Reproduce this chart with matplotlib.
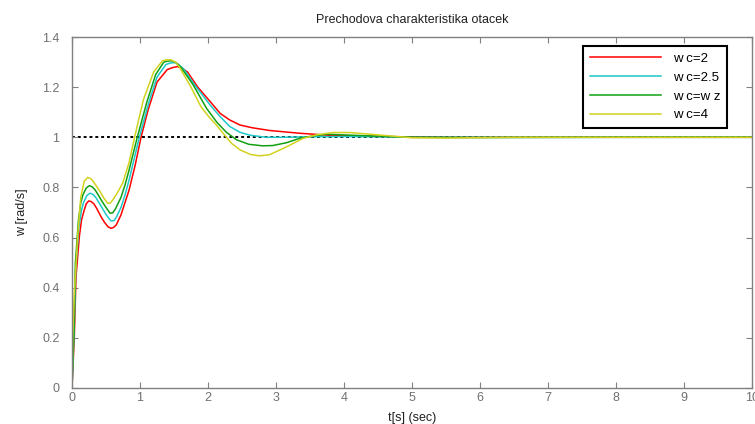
import numpy as np
import matplotlib
matplotlib.use("Agg")
import matplotlib.pyplot as plt

plt.rcParams['font.family'] = ['Liberation Sans', 'DejaVu Sans']

# step responses (t in s, w in rad/s)
t_wc2 = [0, 0.034, 0.059, 0.108, 0.14, 0.18, 0.21, 0.245, 0.28, 0.32, 0.36, 0.40,
         0.44, 0.48, 0.53, 0.574, 0.61, 0.65, 0.72, 0.78, 0.84, 0.93, 1.015, 1.12,
         1.25, 1.40, 1.48, 1.55, 1.62, 1.70, 1.85, 2.03, 2.18, 2.32, 2.47, 2.65,
         2.91, 3.35, 3.84, 4.58, 5.5, 7.0, 8.5, 10]
w_wc2 = [0, 0.205, 0.444, 0.604, 0.67, 0.71, 0.735, 0.746, 0.744, 0.735, 0.718, 0.697,
         0.677, 0.66, 0.643, 0.637, 0.64, 0.65, 0.69, 0.74, 0.79, 0.89, 1.0, 1.11,
         1.22, 1.27, 1.278, 1.282, 1.276, 1.26, 1.20, 1.143, 1.095, 1.069, 1.049, 1.038,
         1.027, 1.016, 1.007, 1.003, 1.0, 1.0, 1.0, 1.0]

t_wc25 = [0, 0.03, 0.055, 0.10, 0.14, 0.17, 0.22, 0.265, 0.31, 0.35, 0.40, 0.45,
          0.51, 0.574, 0.62, 0.65, 0.72, 0.78, 0.84, 0.99, 1.12, 1.25, 1.38, 1.44,
          1.505, 1.57, 1.65, 1.80, 2.03, 2.17, 2.32, 2.47, 2.62, 2.86, 3.1, 3.5, 4.0,
          4.5, 5, 6, 8, 10]
w_wc25 = [0, 0.22, 0.47, 0.64, 0.71, 0.74, 0.768, 0.777, 0.772, 0.76, 0.738, 0.715,
          0.688, 0.666, 0.668, 0.68, 0.72, 0.77, 0.83, 1.0, 1.13, 1.24, 1.29, 1.296,
          1.298, 1.29, 1.27, 1.21, 1.129, 1.085, 1.043, 1.02, 1.008, 1.0, 1.0, 1.002,
          1.003, 1.002, 1.0, 1.0, 1.0, 1.0]

t_wcwz = [0, 0.03, 0.05, 0.095, 0.13, 0.16, 0.21, 0.255, 0.30, 0.34, 0.39, 0.44,
          0.50, 0.56, 0.60, 0.64, 0.72, 0.78, 0.84, 0.96, 1.1, 1.23, 1.35, 1.41,
          1.47, 1.53, 1.6, 1.78, 1.98, 2.13, 2.27, 2.42, 2.6, 2.8, 2.95, 3.15, 3.35,
          3.55, 3.75, 4.33, 5, 6, 8, 10]
w_wcwz = [0, 0.24, 0.50, 0.67, 0.74, 0.77, 0.798, 0.807, 0.802, 0.79, 0.768, 0.745,
          0.72, 0.697, 0.699, 0.715, 0.76, 0.81, 0.87, 1.0, 1.14, 1.25, 1.30, 1.304,
          1.305, 1.298, 1.28, 1.21, 1.115, 1.06, 1.02, 0.99, 0.972, 0.966, 0.967,
          0.978, 0.996, 1.006, 1.012, 1.006, 1.0, 0.999, 1.0, 1.0]

t_wc4 = [0, 0.01, 0.034, 0.083, 0.13, 0.18, 0.23, 0.27, 0.31, 0.36, 0.42, 0.47,
         0.525, 0.56, 0.60, 0.67, 0.745, 0.84, 0.92, 1.05, 1.2, 1.33, 1.39, 1.455,
         1.52, 1.58, 1.75, 1.9, 2.03, 2.12, 2.27, 2.35, 2.47, 2.62, 2.75, 2.9, 3.11,
         3.25, 3.40, 3.6, 3.84, 4.09, 4.48, 5.0, 5.5, 6.5, 8, 10]
w_wc4 = [0, 0.2, 0.378, 0.604, 0.763, 0.825, 0.84, 0.836, 0.825, 0.805, 0.78, 0.757,
         0.737, 0.737, 0.75, 0.78, 0.817, 0.90, 1.0, 1.15, 1.26, 1.305, 1.309, 1.309,
         1.30, 1.28, 1.20, 1.12, 1.076, 1.05, 1.0, 0.975, 0.95, 0.932, 0.926, 0.93,
         0.956, 0.975, 0.996, 1.01, 1.019, 1.019, 1.01, 0.998, 0.997, 1.0, 1.0, 1.0]

labels = ['w c=2', 'w c=2.5', 'w c=w z', 'w c=4']
colors = ['#ff0000', '#1ec8c8', '#12a012', '#d2d21e']

fig = plt.figure(figsize=(7.55, 4.24), dpi=100)
ax = fig.add_axes([72/755, 36/424, 680/755, 351/424])

series = [(t_wc2, w_wc2), (t_wc25, w_wc25), (t_wcwz, w_wcwz), (t_wc4, w_wc4)]
for (t, w), lab, col in zip(series, labels, colors):
    ax.plot(t, w, color=col, lw=1.1, label=lab)

# reference value
ax.axhline(1.0, color='black', ls=(0, (1.5, 1.5)), lw=1.4, zorder=1)

ax.set_xlim(0, 10)
ax.set_ylim(0, 1.4)
ax.set_xticks(np.arange(0, 11, 1))
ax.set_yticks(np.arange(0, 1.41, 0.2))
ax.set_yticklabels(['0', '0.2', '0.4', '0.6', '0.8', '1', '1.2', '1.4'])

ax.tick_params(direction='in', length=4, width=0.8, colors='#808080',
               labelcolor='#707070', labelsize=9, top=True, right=True)
ax.tick_params(axis='y', pad=9)
ax.tick_params(axis='x', pad=3)
for sp in ax.spines.values():
    sp.set_color('#808080')
    sp.set_linewidth(1.0)

ax.set_title('Prechodova charakteristika otacek', fontsize=9, color='#202020', pad=10)
ax.set_xlabel('t[s] (sec)', fontsize=9, color='#202020', labelpad=6)
ax.set_ylabel('w [rad/s]', fontsize=9, color='#202020', labelpad=10)

leg = ax.legend(loc='upper right', bbox_to_anchor=(0.963, 0.974), borderaxespad=0,
                fancybox=False, edgecolor='black', framealpha=1, fontsize=9.5,
                handlelength=5.4, handletextpad=0.9, labelspacing=0.5, borderpad=0.5)
leg.get_frame().set_linewidth(1.5)

fig.savefig('out.png', dpi=100)
